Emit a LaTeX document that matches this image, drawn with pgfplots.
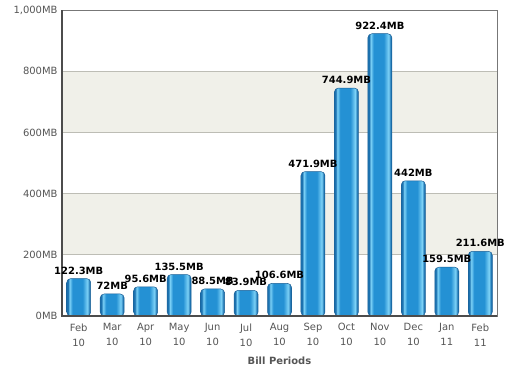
\documentclass[border=0pt]{standalone}
\usepackage{pgfplots}
\pgfplotsset{compat=1.18}
\usepackage{fontspec}
\setmainfont{DejaVu Sans}
\definecolor{band}{HTML}{F0F0E9}
\definecolor{gridc}{HTML}{BDBDB5}
\definecolor{tickc}{HTML}{555555}
\definecolor{barline}{HTML}{1A5F95}
\definecolor{bardark}{HTML}{1C72B0}
\definecolor{barmid}{HTML}{2491D4}
\definecolor{barlight}{HTML}{7DD2F7}
\pgfdeclarehorizontalshading{barshade}{100bp}{
  color(0bp)=(bardark);
  color(25bp)=(bardark);
  color(27.5bp)=(bardark);
  color(31bp)=(barlight);
  color(37bp)=(barmid);
  color(58bp)=(barmid);
  color(68bp)=(barlight);
  color(72.5bp)=(bardark);
  color(75bp)=(bardark);
  color(100bp)=(bardark)}
\pgfplotsset{
  mybar/.style={ybar, bar width=24bp, draw=barline, line width=0.5pt, shading=barshade, shade, rounded corners=4bp, mark=none,
    nodes near coords={\pgfmathprintnumber[fixed,precision=1,1000 sep={}]{\pgfplotspointmeta}MB},
    nodes near coords style={font=\bfseries\fontsize{10}{12}\selectfont, text=black, inner sep=1.5bp, yshift=2.5bp, shade=false},
    point meta=y},
}
\begin{document}
\begin{tikzpicture}
\begin{axis}[
  set layers,
  scale only axis,
  width=435bp, height=306bp,
  xmin=-0.5, xmax=12.5,
  ymin=0, ymax=1000,
  ytick={0,200,400,600,800,1000},
  yticklabels={0MB,200MB,400MB,600MB,800MB,{1,000MB}},
  xtick={0,...,12},
  xticklabels={{Feb\\10},{Mar\\10},{Apr\\10},{May\\10},{Jun\\10},{Jul\\10},{Aug\\10},{Sep\\10},{Oct\\10},{Nov\\10},{Dec\\10},{Jan\\11},{Feb\\11}},
  xticklabel style={align=center, font=\fontsize{10}{15}\selectfont, text=tickc, yshift=-4bp},
  yticklabel style={font=\fontsize{10}{12}\selectfont, text=tickc, xshift=-1bp},
  xlabel={\textbf{Bill Periods}},
  xlabel style={font=\fontsize{10}{12}\selectfont, text=tickc, yshift=-4bp},
  tick style={draw=none},
  ymajorgrids,
  grid style={gridc, line width=0.8pt},
  axis line style={draw=tickc!80, line width=0.8pt},
  /pgf/number format/assume math mode=true,
  clip=false,
]
\addplot[fill=band, draw=none, on layer=axis background, forget plot] coordinates {(-0.5,200) (12.5,200) (12.5,400) (-0.5,400)} -- cycle;
\addplot[fill=band, draw=none, on layer=axis background, forget plot] coordinates {(-0.5,600) (12.5,600) (12.5,800) (-0.5,800)} -- cycle;
\addplot[mybar] coordinates {(0,122.3)};
\addplot[mybar] coordinates {(1,72)};
\addplot[mybar] coordinates {(2,95.6)};
\addplot[mybar] coordinates {(3,135.5)};
\addplot[mybar] coordinates {(4,88.5)};
\addplot[mybar] coordinates {(5,83.9)};
\addplot[mybar] coordinates {(6,106.6)};
\addplot[mybar] coordinates {(7,471.9)};
\addplot[mybar] coordinates {(8,744.9)};
\addplot[mybar] coordinates {(9,922.4)};
\addplot[mybar] coordinates {(10,442)};
\addplot[mybar] coordinates {(11,159.5)};
\addplot[mybar] coordinates {(12,211.6)};
\draw[tickc!90!black, line width=1.6pt] (rel axis cs:0,1) -- (rel axis cs:0,0) -- (rel axis cs:1,0);
\end{axis}
\path (-62bp,-51bp) rectangle (448bp,316bp);
\end{tikzpicture}
\end{document}
